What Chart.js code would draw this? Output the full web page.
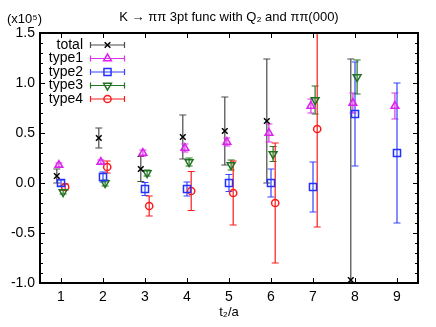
<!DOCTYPE html>
<html>
<head>
<meta charset="utf-8">
<script src="https://cdn.jsdelivr.net/npm/chart.js@4"></script>
<style>
html, body { margin: 0; padding: 0; background: #fff; }
canvas { display: block; }
</style>
</head>
<body>
<canvas id="chart" width="436" height="327"></canvas>
<script>
// K -> pipi 3pt function, values in units of 1e5, one entry per t2/a.
var tValues = [1, 2, 3, 4, 5, 6, 7, 8, 9];
var yTicks = [-1.0, -0.5, 0.0, 0.5, 1.0, 1.5];

var totalY   = [0.07, 0.45, 0.14, 0.46, 0.52, 0.62, null, -0.97, null];
var totalErr = [0.07, 0.10, 0.125, 0.22, 0.34, 0.62, null, 2.21, null];
var type1Y   = [0.18, 0.21, 0.30, 0.35, 0.41, 0.50, 0.77, 0.80, 0.77];
var type1Err = [0.02, 0.02, 0.03, 0.04, 0.04, 0.09, 0.07, 0.10, 0.13];
var type2Y   = [0.00, 0.06, -0.06, -0.06, 0.00, 0.00, -0.04, 0.69, 0.30];
var type2Err = [0.03, 0.05, 0.065, 0.07, 0.085, 0.14, 0.25, 0.52, 0.70];
var type3Y   = [-0.09, 0.00, 0.10, 0.21, 0.18, 0.29, 0.83, 1.06, null];
var type3Err = [0.02, 0.03, 0.03, 0.04, 0.05, 0.075, 0.14, 0.17, null];
var type4Y   = [-0.04, 0.16, -0.23, -0.08, -0.10, -0.20, 0.54, null, null];
var type4Err = [0.03, 0.06, 0.10, 0.195, 0.32, 0.60, 0.98, null, null];

var FONT = "'Liberation Sans', Arial, Helvetica, sans-serif";

function points(ys, errs, shift) {
    var out = [];
    tValues.forEach(function (t, i) {
        if (ys[i] != null) {
            out.push({ x: t + shift, y: ys[i], err: errs[i] });
        }
    });
    return out;
}

// plain styling per series (kept outside the chart, which proxies its datasets)
var styles = [
    { label: "total", color: "#000000", bar: "#4a4a4a", style: "crossRot", radius: 4, rotation: 0, shift: -0.1 },
    { label: "type1", color: "#dd22ee", bar: "#dd33ee", style: "triangle", radius: 4.5, rotation: 0, shift: -0.05 },
    { label: "type2", color: "#2233ff", bar: "#3344ff", style: "rect", radius: 5, rotation: 0, shift: 0 },
    { label: "type3", color: "#1f721f", bar: "#237523", style: "triangle", radius: 4.5, rotation: 180, shift: 0.05 },
    { label: "type4", color: "#ff1a1a", bar: "#ff1a1a", style: "circle", radius: 3.6, rotation: 0, shift: 0.1 }
];
var seriesY = [totalY, type1Y, type2Y, type3Y, type4Y];
var seriesErr = [totalErr, type1Err, type2Err, type3Err, type4Err];

var datasets = styles.map(function (st, i) {
    return {
        label: st.label,
        data: points(seriesY[i], seriesErr[i], st.shift),
        showLine: false,
        pointStyle: st.style,
        pointRadius: st.radius,
        pointHoverRadius: st.radius,
        pointRotation: st.rotation,
        pointBorderWidth: 1.5,
        borderColor: st.color,
        backgroundColor: "rgba(0,0,0,0)",
        pointBackgroundColor: "rgba(0,0,0,0)"
    };
});

function marker(ctx, st, x, y) {
    ctx.save();
    ctx.strokeStyle = st.color;
    ctx.fillStyle = "rgba(0,0,0,0)";
    ctx.lineWidth = 1.5;
    Chart.helpers.drawPoint(ctx, {
        pointStyle: st.style,
        radius: st.radius,
        rotation: st.rotation,
        borderWidth: 1.5
    }, x, y);
    ctx.restore();
}

function errBar(ctx, x, y1, y2, cap) {
    ctx.beginPath();
    ctx.moveTo(x, y1);
    ctx.lineTo(x, y2);
    ctx.moveTo(x - cap, y1);
    ctx.lineTo(x + cap, y1);
    ctx.moveTo(x - cap, y2);
    ctx.lineTo(x + cap, y2);
    ctx.stroke();
}

var errorBars = {
    id: "errorBars",
    beforeDatasetsDraw: function (chart) {
        var ctx = chart.ctx, xs = chart.scales.x, ys = chart.scales.y, a = chart.chartArea;
        ctx.save();
        ctx.beginPath();
        ctx.rect(a.left, a.top, a.right - a.left, a.bottom - a.top);
        ctx.clip();
        ctx.lineWidth = 1.2;
        styles.forEach(function (st, i) {
            ctx.strokeStyle = st.bar;
            datasets[i].data.forEach(function (p) {
                var x = xs.getPixelForValue(p.x);
                errBar(ctx, x, ys.getPixelForValue(p.y - p.err),
                    ys.getPixelForValue(p.y + p.err), 3.5);
            });
        });
        ctx.restore();
    }
};

var frame = {
    id: "frame",
    afterDraw: function (chart) {
        var ctx = chart.ctx, xs = chart.scales.x, ys = chart.scales.y, a = chart.chartArea;
        ctx.save();
        ctx.strokeStyle = "#000";
        ctx.lineWidth = 1;
        ctx.beginPath();
        tValues.forEach(function (t) {
            var x = Math.round(xs.getPixelForValue(t)) + 0.5;
            ctx.moveTo(x, a.bottom); ctx.lineTo(x, a.bottom - 5);
            ctx.moveTo(x, a.top); ctx.lineTo(x, a.top + 5);
        });
        for (var k = -10; k <= 15; k++) {
            var len = k % 5 === 0 ? 5 : 3;
            var y = Math.round(ys.getPixelForValue(k / 10)) + 0.5;
            ctx.moveTo(a.left, y); ctx.lineTo(a.left + len, y);
            ctx.moveTo(a.right, y); ctx.lineTo(a.right - len, y);
        }
        ctx.stroke();
        ctx.lineWidth = 2;
        ctx.strokeRect(a.left, a.top, a.right - a.left, a.bottom - a.top);

        // legend
        ctx.font = "14px " + FONT;
        ctx.textAlign = "right";
        ctx.textBaseline = "middle";
        ctx.lineWidth = 1.2;
        styles.forEach(function (st, i) {
            var ly = 45 + i * 13.5;
            ctx.fillStyle = "#000";
            ctx.fillText(st.label, 83, ly);
            ctx.strokeStyle = st.bar;
            ctx.beginPath();
            ctx.moveTo(90, ly); ctx.lineTo(125, ly);
            ctx.moveTo(90.5, ly - 3); ctx.lineTo(90.5, ly + 3);
            ctx.moveTo(124.5, ly - 3); ctx.lineTo(124.5, ly + 3);
            ctx.stroke();
            marker(ctx, st, 107.5, ly);
        });

        // title and multiplier
        ctx.fillStyle = "#000";
        ctx.textAlign = "center";
        ctx.font = "13px " + FONT;
        ctx.fillText("K \u2192 \u03c0\u03c0 3pt func with Q\u2082 and \u03c0\u03c0(000)", 229, 17);
        ctx.textAlign = "left";
        ctx.fillText("(x10\u2075)", 7, 19);
        ctx.restore();
    }
};

new Chart(document.getElementById("chart"), {
    type: "scatter",
    data: { datasets: datasets },
    plugins: [errorBars, frame],
    options: {
        responsive: false,
        animation: false,
        events: [],
        layout: { padding: { top: 33, right: 18, left: 0, bottom: 0 } },
        plugins: { legend: { display: false }, tooltip: { enabled: false } },
        scales: {
            x: {
                type: "linear",
                min: 0.5,
                max: 9.5,
                afterBuildTicks: function (s) {
                    s.ticks = tValues.map(function (v) { return { value: v }; });
                },
                afterFit: function (s) { s.height = 44; },
                grid: { display: false, drawTicks: false },
                border: { display: false },
                ticks: { color: "#000", font: { size: 14, family: FONT }, padding: 6 },
                title: {
                    display: true,
                    text: "t\u2082/a",
                    color: "#000",
                    font: { size: 13, family: FONT },
                    padding: { top: 0, bottom: 7 }
                }
            },
            y: {
                min: -1.0,
                max: 1.5,
                afterBuildTicks: function (s) {
                    s.ticks = yTicks.map(function (v) { return { value: v }; });
                },
                afterFit: function (s) { s.width = 40; },
                grid: { display: false, drawTicks: false },
                border: { display: false },
                ticks: {
                    color: "#000",
                    font: { size: 14, family: FONT },
                    padding: 5,
                    callback: function (v) { return v.toFixed(1); }
                }
            }
        }
    }
});
</script>
</body>
</html>
